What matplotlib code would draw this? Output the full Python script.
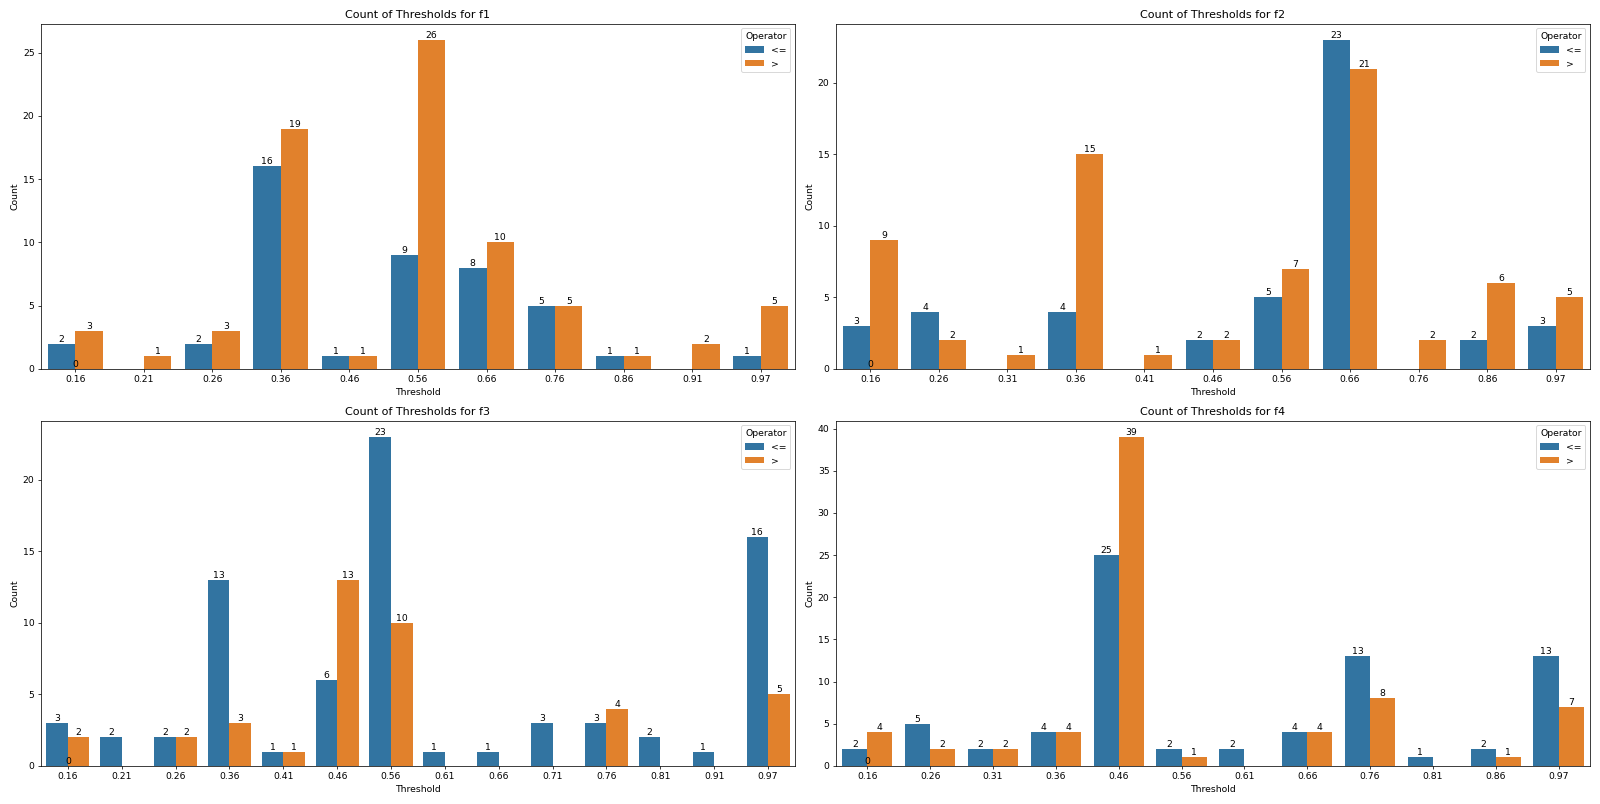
import numpy as np
import matplotlib.pyplot as plt

# thresholds and counts per feature; None = no bar for that operator
f1_thresholds = ["0.16", "0.21", "0.26", "0.36", "0.46", "0.56", "0.66", "0.76", "0.86", "0.91", "0.97"]
f1_le = [2, None, 2, 16, 1, 9, 8, 5, 1, None, 1]
f1_gt = [3, 1, 3, 19, 1, 26, 10, 5, 1, 2, 5]

f2_thresholds = ["0.16", "0.26", "0.31", "0.36", "0.41", "0.46", "0.56", "0.66", "0.76", "0.86", "0.97"]
f2_le = [3, 4, None, 4, None, 2, 5, 23, None, 2, 3]
f2_gt = [9, 2, 1, 15, 1, 2, 7, 21, 2, 6, 5]

f3_thresholds = ["0.16", "0.21", "0.26", "0.36", "0.41", "0.46", "0.56", "0.61", "0.66", "0.71", "0.76", "0.81", "0.91", "0.97"]
f3_le = [3, 2, 2, 13, 1, 6, 23, 1, 1, 3, 3, 2, 1, 16]
f3_gt = [2, None, 2, 3, 1, 13, 10, None, None, None, 4, None, None, 5]

f4_thresholds = ["0.16", "0.26", "0.31", "0.36", "0.46", "0.56", "0.61", "0.66", "0.76", "0.81", "0.86", "0.97"]
f4_le = [2, 5, 2, 4, 25, 2, 2, 4, 13, 1, 2, 13]
f4_gt = [4, 2, 2, 4, 39, 1, None, 4, 8, None, 1, 7]

features = [
    ("f1", f1_thresholds, f1_le, f1_gt),
    ("f2", f2_thresholds, f2_le, f2_gt),
    ("f3", f3_thresholds, f3_le, f3_gt),
    ("f4", f4_thresholds, f4_le, f4_gt),
]

blue = "#3274a1"
orange = "#e1812c"


def draw_counts(ax, name, thresholds, le, gt):
    x = np.arange(len(thresholds))
    w = 0.4
    for vals, off, col, lab in [(le, -w / 2, blue, "<="), (gt, w / 2, orange, ">")]:
        xs = [xi + off for xi, v in zip(x, vals) if v is not None]
        hs = [v for v in vals if v is not None]
        bars = ax.bar(xs, hs, width=w, color=col, label=lab)
        ax.bar_label(bars, padding=0)
    # stray zero label seen in the original
    ax.text(0, 0, "0", ha="center", va="bottom")
    ax.set_xticks(x)
    ax.set_xticklabels(thresholds)
    ax.set_xlim(-0.5, len(thresholds) - 0.5)
    ax.set_title(f"Count of Thresholds for {name}")
    ax.set_xlabel("Threshold")
    ax.set_ylabel("Count")
    ax.legend(title="Operator", loc="upper right")


fig, axes = plt.subplots(2, 2, figsize=(24, 12.06), dpi=200 / 3)
for ax, (name, th, le, gt) in zip(axes.flat, features):
    draw_counts(ax, name, th, le, gt)

plt.tight_layout()
plt.savefig("out.png", dpi=200 / 3)
